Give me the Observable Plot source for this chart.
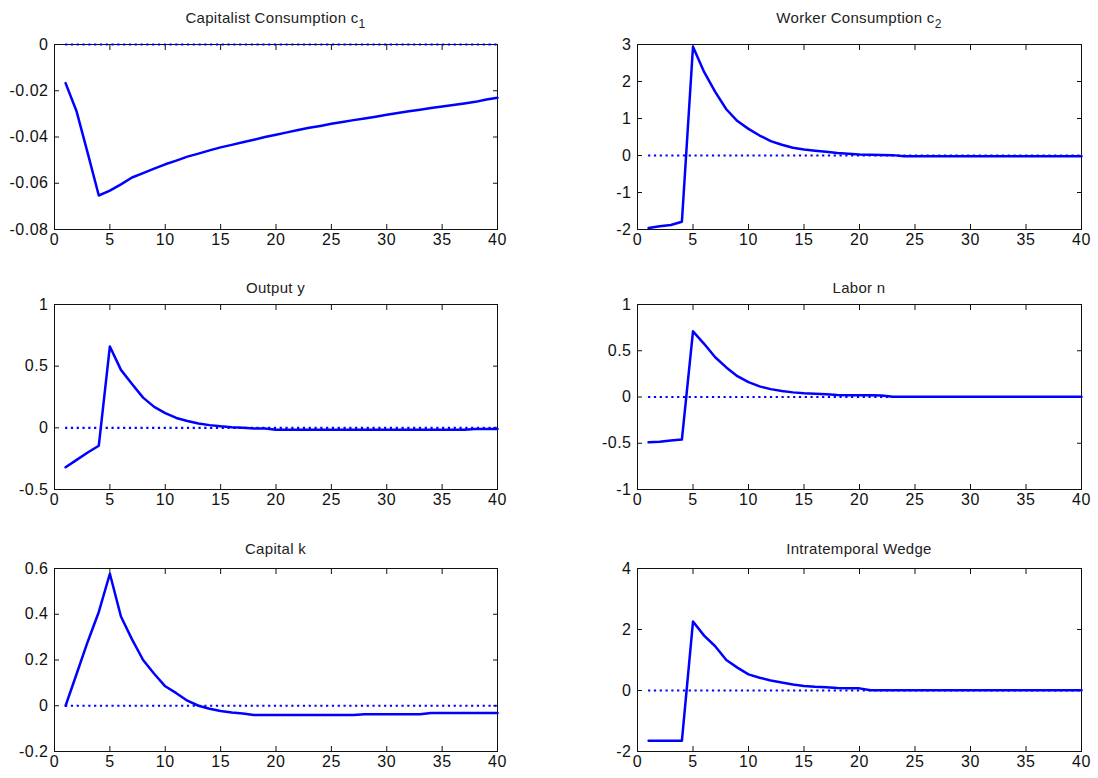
<!DOCTYPE html>
<html><head><meta charset="utf-8">
<script src="https://cdn.jsdelivr.net/npm/d3@7"></script>
<script src="https://cdn.jsdelivr.net/npm/@observablehq/plot@0.6"></script>
<style>
html,body{margin:0;padding:0;background:#fff;}
#chart{position:relative;width:1098px;height:778px;overflow:hidden;font-family:"Liberation Sans",Arial,sans-serif;}
.title{position:absolute;text-align:center;font-size:15px;line-height:15px;color:#222;letter-spacing:0.3px;white-space:nowrap;}
.title sub{font-size:12px;vertical-align:-5px;line-height:0;}
</style></head><body><div id="chart"></div>
<script>
// Periods (x axis)
const periods = [1,2,3,4,5,6,7,8,9,10,11,12,13,14,15,16,17,18,19,20,21,22,23,24,25,26,27,28,29,30,31,32,33,34,35,36,37,38,39,40];
const xTicks = [0,5,10,15,20,25,30,35,40];

// Series values (impulse responses)
const capitalistC1 = [-0.0167,-0.0290,-0.0470,-0.0653,-0.0632,-0.0605,-0.0575,-0.0556,-0.0537,-0.0518,-0.0502,-0.0485,-0.0472,-0.0458,-0.0445,-0.0434,-0.0423,-0.0412,-0.0400,-0.0390,-0.0380,-0.0370,-0.0360,-0.0352,-0.0343,-0.0335,-0.0327,-0.0320,-0.0312,-0.0304,-0.0296,-0.0289,-0.0282,-0.0275,-0.0268,-0.0262,-0.0255,-0.0248,-0.0238,-0.0230];
const workerC2 = [-1.96,-1.91,-1.88,-1.79,2.94,2.26,1.72,1.25,0.93,0.72,0.54,0.39,0.29,0.21,0.16,0.13,0.10,0.07,0.05,0.03,0.02,0.015,0.01,-0.02,-0.02,-0.02,-0.02,-0.02,-0.02,-0.02,-0.02,-0.02,-0.02,-0.02,-0.02,-0.02,-0.02,-0.02,-0.02,-0.02];
const outputY = [-0.32,-0.26,-0.20,-0.145,0.66,0.47,0.355,0.245,0.17,0.12,0.08,0.055,0.035,0.022,0.012,0.005,0.0,-0.005,-0.006,-0.015,-0.015,-0.015,-0.015,-0.015,-0.015,-0.015,-0.015,-0.015,-0.015,-0.015,-0.015,-0.015,-0.015,-0.015,-0.015,-0.015,-0.015,-0.01,-0.01,-0.01];
const laborN = [-0.49,-0.485,-0.47,-0.46,0.71,0.575,0.43,0.32,0.225,0.16,0.115,0.085,0.065,0.05,0.04,0.035,0.03,0.022,0.02,0.02,0.018,0.015,0.002,0.002,0.002,0.002,0.002,0.002,0.002,0.002,0.002,0.002,0.002,0.002,0.002,0.002,0.002,0.002,0.002,0.002];
const capitalK = [0,0.14,0.28,0.41,0.577,0.39,0.29,0.20,0.14,0.085,0.055,0.022,0.0,-0.013,-0.023,-0.03,-0.034,-0.04,-0.04,-0.04,-0.04,-0.04,-0.04,-0.04,-0.04,-0.04,-0.04,-0.037,-0.037,-0.037,-0.037,-0.037,-0.037,-0.032,-0.032,-0.032,-0.032,-0.032,-0.032,-0.032];
const wedge = [-1.65,-1.65,-1.65,-1.65,2.26,1.80,1.45,1.0,0.75,0.53,0.42,0.33,0.26,0.2,0.15,0.12,0.11,0.08,0.075,0.07,0.01,0.01,0.01,0.01,0.01,0.01,0.01,0.01,0.01,0.01,0.01,0.01,0.01,0.01,0.01,0.01,0.01,0.01,0.01,0.01];

// Titles
const titles = ["Capitalist Consumption c<sub>1</sub>","Worker Consumption c<sub>2</sub>","Output y","Labor n","Capital k","Intratemporal Wedge"];

// Y tick labels / domains
const yTicks1 = [-0.08,-0.06,-0.04,-0.02,0];
const yTicks2 = [-2,-1,0,1,2,3];
const yTicks3 = [-0.5,0,0.5,1];
const yTicks4 = [-1,-0.5,0,0.5,1];
const yTicks5 = [-0.2,0,0.2,0.4,0.6];
const yTicks6 = [-2,0,2,4];

const seriesList = [capitalistC1, workerC2, outputY, laborN, capitalK, wedge];
const tickList = [yTicks1, yTicks2, yTicks3, yTicks4, yTicks5, yTicks6];

// Layout (pixel frame boxes)
const cols = [[54,497],[637,1081]];
const rows = [[44,229],[304,489],[568,751]];
const titleTops = [10,280,541];

const chart = document.getElementById("chart");
const font = '"Liberation Sans", Arial, sans-serif';

seriesList.forEach((vals, i) => {
  const [x0,x1] = cols[i % 2];
  const [y0,y1] = rows[Math.floor(i / 2)];
  const ticks = tickList[i];
  const ml = 64, mr = 12, mt = 10, mb = 28;
  const data = periods.map((t, j) => ({t, v: vals[j]}));
  const svg = Plot.plot({
    width: x1 - x0 + ml + mr,
    height: y1 - y0 + mt + mb,
    marginLeft: ml, marginRight: mr, marginTop: mt, marginBottom: mb,
    style: {fontFamily: font, fontSize: "16px", color: "#111", background: "transparent", letterSpacing: "0.5px"},
    x: {domain: [xTicks[0], xTicks[xTicks.length - 1]]},
    y: {domain: [ticks[0], ticks[ticks.length - 1]]},
    marks: [
      Plot.frame({stroke: "#111", strokeWidth: 1}),
      Plot.axisX(xTicks, {anchor: "bottom", tickSize: -5, tickPadding: 9, tickFormat: d => String(d), label: null}),
      Plot.axisX(xTicks, {anchor: "top", tickSize: -5, tickFormat: () => "", label: null}),
      Plot.axisY(ticks, {anchor: "left", tickSize: -5, tickPadding: 11, tickFormat: d => String(d), label: null}),
      Plot.axisY(ticks, {anchor: "right", tickSize: -5, tickFormat: () => "", label: null}),
      Plot.ruleY([0], {x1: periods[0], x2: periods[periods.length - 1], stroke: "blue", strokeWidth: 2.2, strokeDasharray: "2.2,3.6"}),
      Plot.line(data, {x: "t", y: "v", stroke: "blue", strokeWidth: 2.5})
    ]
  });
  svg.style.position = "absolute";
  svg.style.left = (x0 - ml) + "px";
  svg.style.top = (y0 - mt) + "px";
  chart.appendChild(svg);

  const tdiv = document.createElement("div");
  tdiv.className = "title";
  tdiv.style.left = x0 + "px";
  tdiv.style.width = (x1 - x0) + "px";
  tdiv.style.top = titleTops[Math.floor(i / 2)] + "px";
  tdiv.innerHTML = titles[i];
  chart.appendChild(tdiv);
});
</script></body></html>
